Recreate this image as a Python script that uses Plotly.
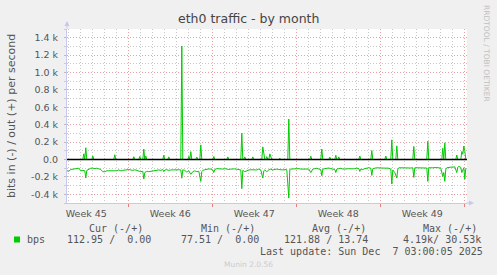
import plotly.graph_objects as go
import pandas as pd

# ---------------- data ----------------
sample_start = "2025-11-03 21:00"   # first 2-hour sample
sample_hours = 2
n_samples = 400

# out (+) : sample index -> bps (0 elsewhere)
out_idx = [17, 19, 26, 48, 67, 73, 77, 79, 97, 102, 115, 122, 124, 130, 134, 147, 161,
           175, 178, 186, 196, 197, 200, 203, 204, 213, 222, 244, 255, 263, 269, 272,
           293, 305, 319, 325, 330, 347, 361, 376, 378, 390, 395, 396, 397, 398]
out_val = [65, 135, 40, 55, 32, 35, 120, 40, 50, 30, 1305, 35, 90, 28, 168, 35, 30,
           305, 30, 30, 145, 80, 33, 65, 40, 15, 465, 38, 120, 28, 48, 30,
           40, 103, 40, 226, 157, 150, 210, 130, 192, 52, 92, 60, 155, 100]

# in (-) : sample index -> bps
in_idx = [0, 2, 4, 6, 8, 10, 12, 14, 16, 18, 19, 20, 22, 24, 26, 28, 30, 32, 34, 36, 38, 40,
          42, 44, 46, 48, 50, 52, 54, 56, 58, 60, 62, 64, 66, 68, 70, 72, 74, 76, 77, 78, 80,
          82, 84, 86, 88, 90, 92, 94, 96, 97, 98, 100, 102, 104, 106, 108, 110, 112, 114, 115,
          116, 118, 120, 122, 124, 126, 128, 130, 132, 134, 135, 136, 138, 140, 142, 144, 146,
          147, 148, 150, 152, 154, 156, 158, 160, 162, 164, 166, 168, 170, 172, 174, 175, 176,
          178, 180, 182, 184, 186, 188, 190, 192, 194, 196, 197, 198, 200, 202, 204, 206, 208,
          210, 212, 214, 216, 218, 220, 222, 223, 224, 226, 228, 230, 232, 234, 236, 238, 240,
          242, 244, 246, 248, 250, 252, 254, 255, 256, 258, 260, 262, 264, 266, 268, 269, 270,
          272, 274, 276, 278, 280, 282, 284, 286, 288, 290, 292, 293, 294, 296, 298, 300, 302,
          304, 305, 306, 308, 310, 314, 318, 322, 324, 325, 326, 328, 330, 331, 332, 336, 340,
          344, 346, 347, 348, 352, 356, 360, 361, 362, 366, 370, 374, 376, 377, 378, 379, 380,
          384, 388, 390, 391, 392, 394, 395, 396, 397, 398, 399]
in_val = [130, 135, 115, 112, 110, 100, 100, 130, 125, 130, 213, 125, 110, 100, 100, 105, 100,
          110, 115, 140, 140, 130, 130, 125, 130, 125, 130, 120, 130, 125, 120, 120, 115, 120,
          125, 118, 125, 135, 140, 135, 225, 150, 135, 140, 135, 130, 132, 125, 120, 125, 115,
          140, 120, 118, 125, 120, 118, 115, 120, 118, 120, 215, 118, 125, 145, 130, 170, 140,
          130, 140, 135, 252, 140, 125, 118, 112, 108, 110, 120, 150, 115, 105, 108, 112, 110,
          105, 110, 115, 110, 105, 108, 112, 115, 120, 335, 125, 140, 125, 120, 118, 120, 125,
          120, 110, 120, 213, 130, 120, 140, 120, 110, 120, 115, 110, 115, 118, 120, 115, 118,
          443, 115, 110, 108, 112, 110, 105, 110, 108, 110, 105, 110, 150, 110, 105, 100, 110,
          115, 187, 110, 105, 100, 98, 105, 110, 115, 150, 110, 105, 100, 110, 112, 108, 105,
          110, 108, 105, 100, 105, 137, 110, 115, 105, 100, 95, 100, 183, 105, 100, 95, 98, 95,
          100, 110, 282, 120, 150, 213, 110, 95, 98, 95, 98, 95, 206, 95, 98, 95, 98, 252, 95,
          95, 92, 100, 195, 150, 252, 110, 95, 88, 85, 150, 88, 80, 90, 150, 120, 95, 225, 100]

x_range = ["2025-11-03 21:24", "2025-12-07 05:24"]
week_grid = ["2025-11-09", "2025-11-16", "2025-11-23", "2025-11-30", "2025-12-07"]
week_label_pos = ["2025-11-05 12:00", "2025-11-12 12:00", "2025-11-19 12:00",
                  "2025-11-26 12:00", "2025-12-03 12:00"]
week_labels = ["Week 45", "Week 46", "Week 47", "Week 48", "Week 49"]

y_ticks = [-400, -200, 0, 200, 400, 600, 800, 1000, 1200, 1400]
y_ticklabels = ["-0.4 k", "-0.2 k", "0.0", "0.2 k", "0.4 k", "0.6 k", "0.8 k",
                "1.0 k", "1.2 k", "1.4 k"]
y_range = [-500, 1500]

legend_headers = ["Cur (-/+)", "Min (-/+)", "Avg (-/+)", "Max (-/+)"]
legend_values = ["112.95 /  0.00", "77.51 /  0.00", "121.88 / 13.74", "4.19k/ 30.53k"]
series_name = "bps"
last_update = "Last update: Sun Dec  7 03:00:05 2025"

# ---------------- build ----------------
t0 = pd.Timestamp(sample_start)
dt = pd.Timedelta(hours=sample_hours)
out_full = [0.0] * n_samples
for i, v in zip(out_idx, out_val):
    out_full[i] = v
out_t = [t0 + dt * i for i in range(n_samples)]
in_t = [t0 + dt * i for i in in_idx]
in_neg = [-v for v in in_val]

GREEN = "#00cc00"
AXC = "#c8c8ee"
MAJ = "#eaa0a0"
MIN = "#c8c8c8"
TXT = "#555555"

W, H = 497, 275
ML, MR, MT, MB = 67, 30, 29, 72
PW, PH = W - ML - MR, H - MT - MB


def px(x):
    return (x - ML) / PW


def py(y):
    return (H - MB - y) / PH


fig = go.Figure()
fig.add_trace(go.Scatter(x=out_t, y=out_full, mode="lines",
                         line=dict(color=GREEN, width=1), xaxis="x", yaxis="y",
                         hoverinfo="skip", showlegend=False))
fig.add_trace(go.Scatter(x=in_t, y=in_neg, mode="lines",
                         line=dict(color=GREEN, width=1), xaxis="x2", yaxis="y",
                         hoverinfo="skip", showlegend=False))

fig.add_hline(y=0, line=dict(color="#000000", width=1.5), layer="above")

fig.update_layout(
    width=W, height=H,
    margin=dict(l=ML, r=MR, t=MT, b=MB, pad=0),
    paper_bgcolor="#f0f0f0", plot_bgcolor="#ffffff",
    showlegend=False,
    font=dict(family="DejaVu Sans", size=9.5, color=TXT),
    xaxis=dict(type="date", range=x_range, tickvals=week_grid, showticklabels=False,
               showgrid=True, gridcolor=MAJ, griddash="1px,2px", gridwidth=1,
               ticks="outside", ticklen=3, tickcolor="#e08080",
               showline=True, linecolor=AXC, linewidth=1, zeroline=False,
               minor=dict(dtick=86400000, tick0="2025-11-09", showgrid=True,
                          gridcolor=MIN, griddash="1px,2px", gridwidth=1, ticks="")),
    xaxis2=dict(type="date", overlaying="x", anchor="y", matches="x", range=x_range,
                tickvals=week_label_pos, ticktext=week_labels, showgrid=False,
                ticks="", ticklabelstandoff=3, zeroline=False, showline=False,
                tickfont=dict(size=9.5, color=TXT)),
    yaxis=dict(range=y_range, tickvals=y_ticks, ticktext=y_ticklabels,
               showgrid=True, gridcolor=MAJ, griddash="1px,2px", gridwidth=1,
               ticks="outside", ticklen=2, tickcolor="#bbbbbb",
               ticklabelstandoff=4, zeroline=False,
               showline=True, linecolor=AXC, linewidth=1,
               tickfont=dict(size=9.5, color=TXT),
               minor=dict(dtick=100, showgrid=True, gridcolor=MIN, griddash="1px,2px",
                          gridwidth=1, ticks="outside", ticklen=2, tickcolor="#cccccc")),
)

ann = []
# title
ann.append(dict(text="eth0 traffic - by month", x=px(248.5), y=py(19), xref="paper",
                yref="paper", xanchor="center", yanchor="middle", showarrow=False,
                font=dict(size=12.5, color="#444444", family="DejaVu Sans")))
# y-axis title
ann.append(dict(text="bits in (-) / out (+) per second", x=px(11), y=py(116),
                xref="paper", yref="paper", xanchor="center", yanchor="middle",
                textangle=-90, showarrow=False,
                font=dict(size=11, color=TXT, family="DejaVu Sans")))
# watermark
ann.append(dict(text="RRDTOOL / TOBI OETIKER", x=px(487), y=py(53), xref="paper",
                yref="paper", xanchor="center", yanchor="middle", textangle=90,
                showarrow=False, font=dict(size=7.5, color="#c0c0c0", family="DejaVu Sans")))
# axis arrows
ann.append(dict(text="", x=px(474), y=py(203), xref="paper", yref="paper", showarrow=True,
                ax=-9, ay=0, arrowhead=2, arrowsize=1, arrowwidth=1, arrowcolor=AXC))
ann.append(dict(text="", x=px(67), y=py(21), xref="paper", yref="paper", showarrow=True,
                ax=0, ay=9, arrowhead=2, arrowsize=1, arrowwidth=1, arrowcolor=AXC))

mono = dict(family="DejaVu Sans Mono", size=10, color=TXT)
nb = lambda s: s.replace(" ", "\u00a0")
for txt, xl in zip(legend_headers, [89, 201, 312, 423]):
    ann.append(dict(text=nb(txt), x=px(xl), y=py(228), xref="paper", yref="paper",
                    xanchor="left", yanchor="middle", showarrow=False, font=mono,
                    borderpad=0, borderwidth=0))
ann.append(dict(text=series_name, x=px(27), y=py(239.5), xref="paper", yref="paper",
                xanchor="left", yanchor="middle", showarrow=False, font=mono,
                borderpad=0, borderwidth=0))
for txt, xl in zip(legend_values, [67, 181, 284, 403]):
    ann.append(dict(text=nb(txt), x=px(xl), y=py(239.5), xref="paper", yref="paper",
                    xanchor="left", yanchor="middle", showarrow=False, font=mono,
                    borderpad=0, borderwidth=0))
ann.append(dict(text=nb(last_update), x=px(260), y=py(251), xref="paper", yref="paper",
                xanchor="left", yanchor="middle", showarrow=False, font=mono,
                borderpad=0, borderwidth=0))
ann.append(dict(text="Munin 2.0.56", x=px(248), y=py(264), xref="paper", yref="paper",
                xanchor="center", yanchor="middle", showarrow=False,
                font=dict(size=7.5, color="#cccccc", family="DejaVu Sans")))
fig.update_layout(annotations=ann)

fig.add_shape(type="rect", xref="paper", yref="paper", x0=px(14), x1=px(20),
              y0=py(242.5), y1=py(236.5), fillcolor=GREEN, line=dict(width=0))

fig.write_html("out.html")
